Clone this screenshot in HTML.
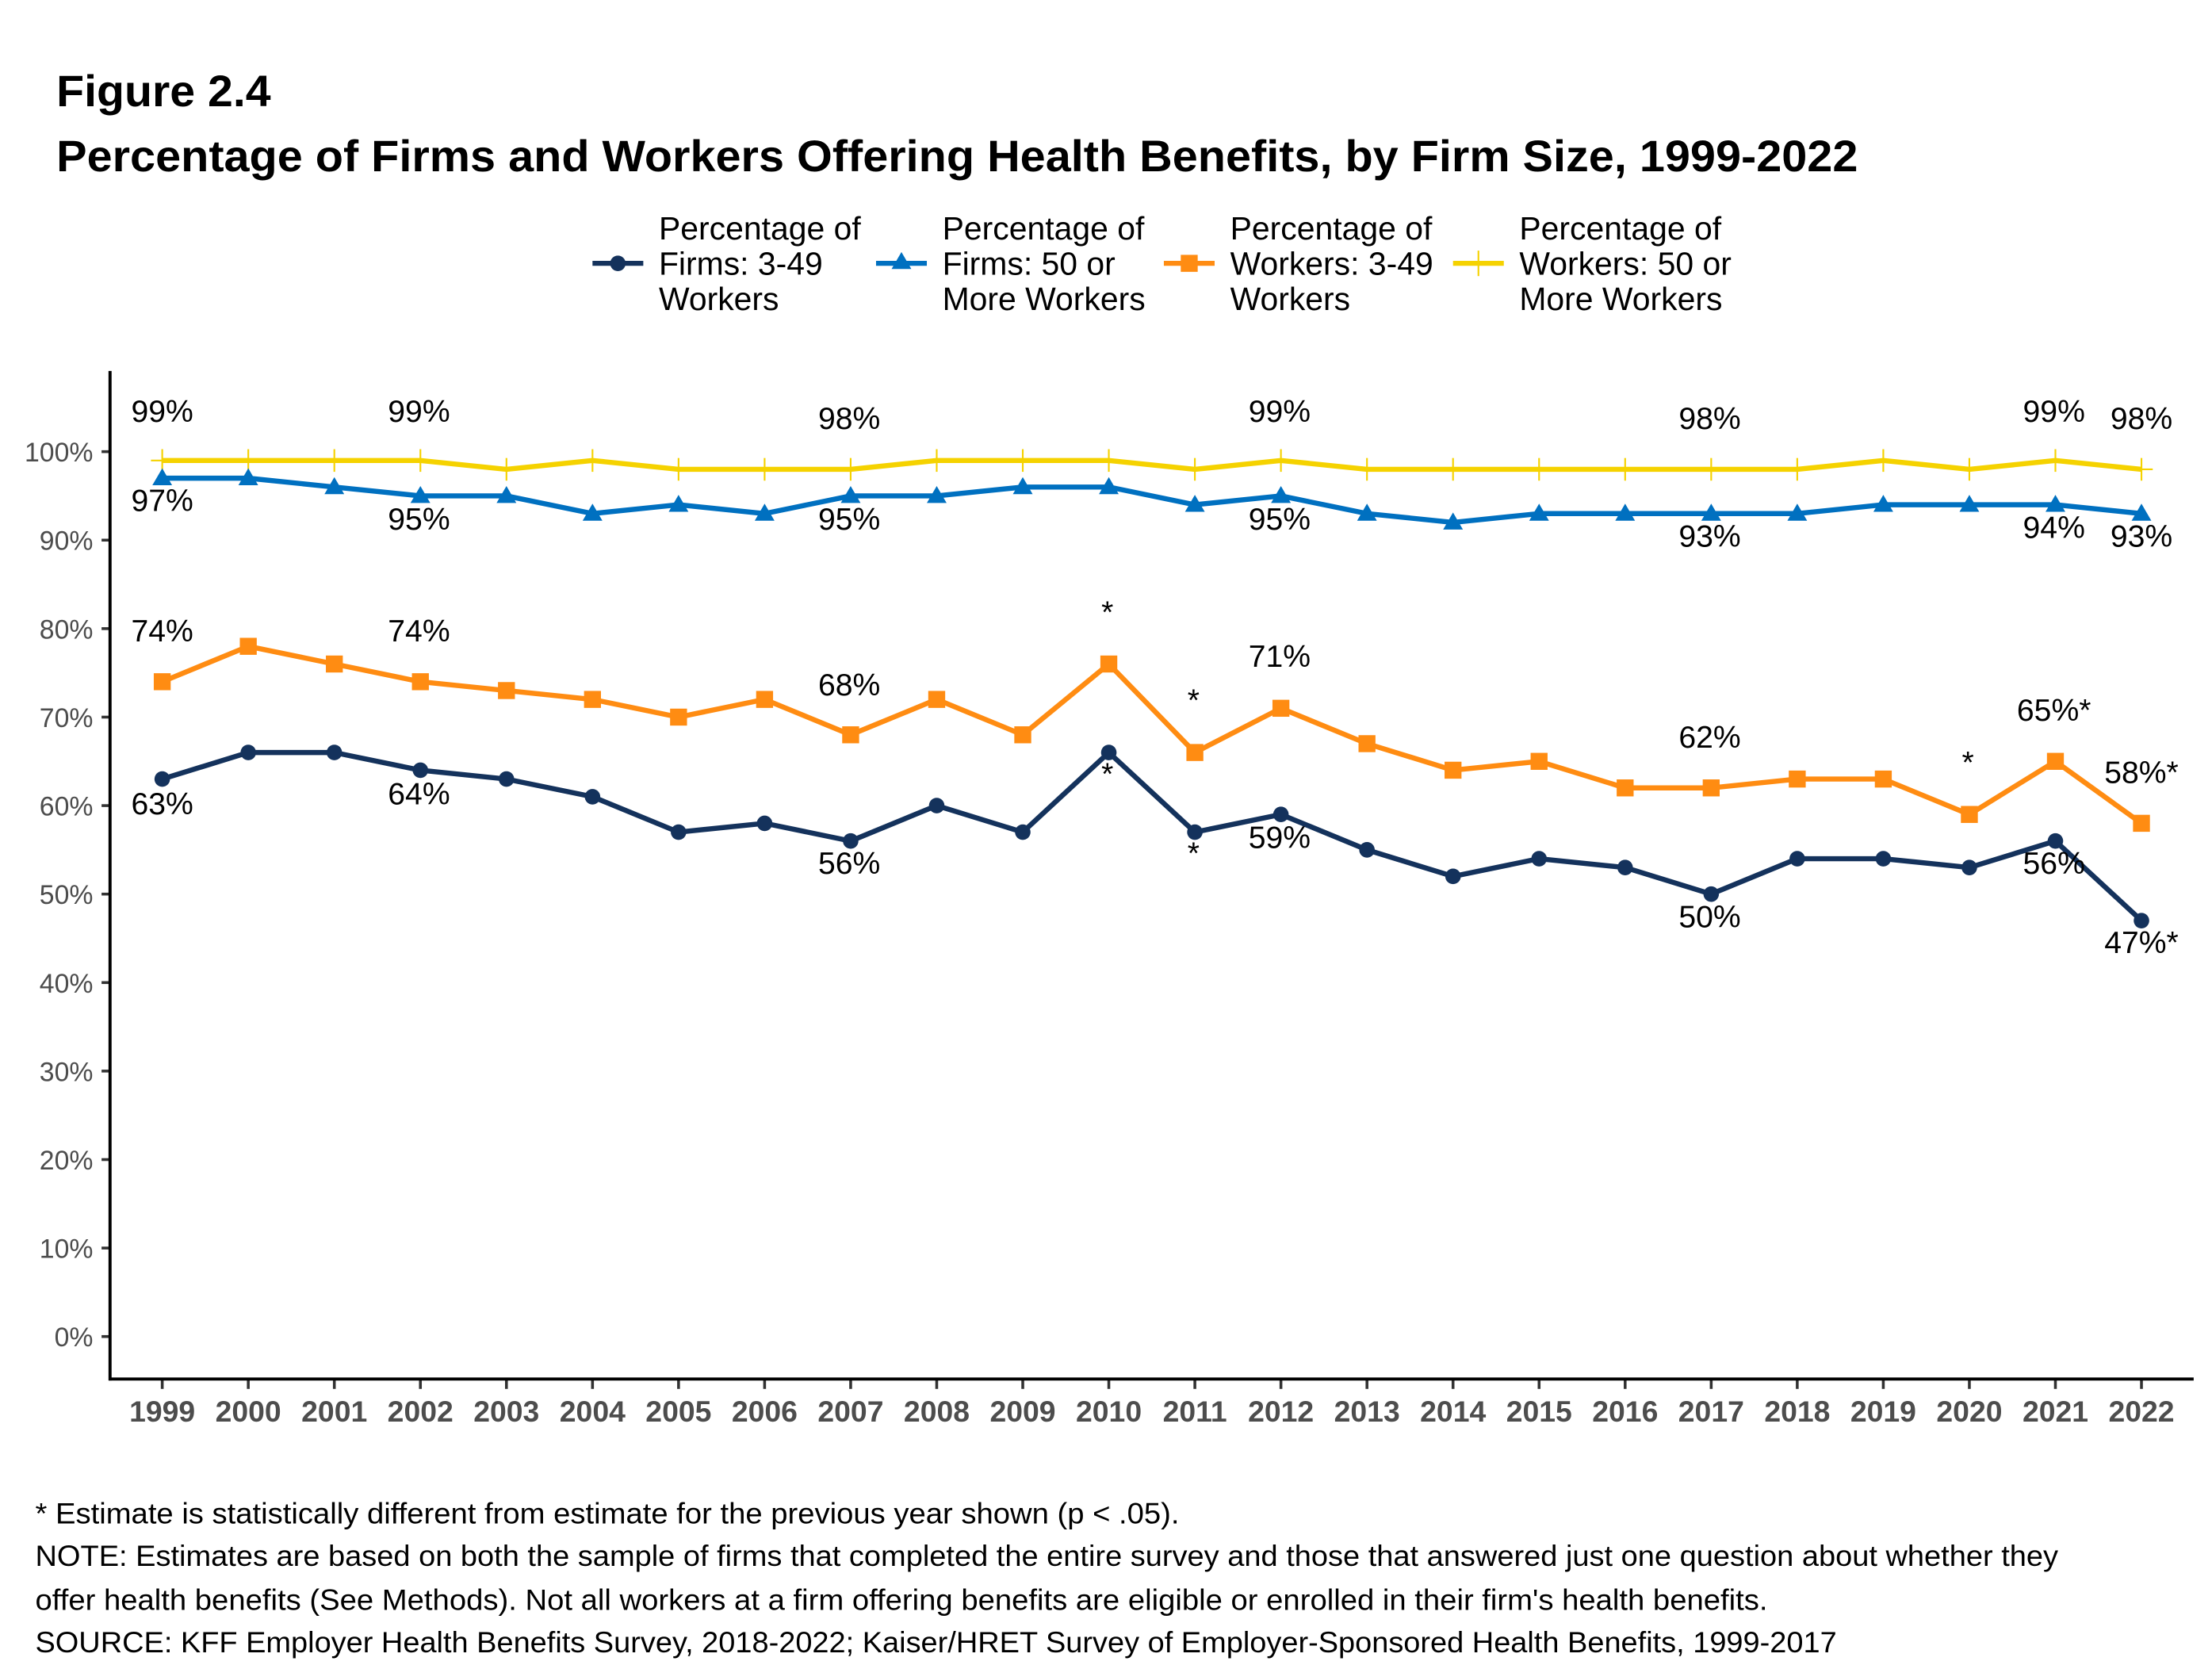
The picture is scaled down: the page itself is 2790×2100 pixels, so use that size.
<!DOCTYPE html>
<html><head><meta charset="utf-8"><style>
html,body{margin:0;padding:0;background:#fff}
svg{display:block}
text{font-family:"Liberation Sans",Arial,sans-serif}
</style></head><body>
<svg width="2790" height="2100" viewBox="0 0 1568 1176" preserveAspectRatio="none" xmlns="http://www.w3.org/2000/svg">
<defs>
<marker id="mc" markerUnits="userSpaceOnUse" markerWidth="14" markerHeight="14" refX="7" refY="7" overflow="visible"><circle cx="7" cy="7" r="5.5" fill="#14325c"/></marker>
<marker id="mt" markerUnits="userSpaceOnUse" markerWidth="16" markerHeight="16" refX="8" refY="8" overflow="visible"><polygon points="8,1 15,13 1,13" fill="#0070c0"/></marker>
<marker id="ms" markerUnits="userSpaceOnUse" markerWidth="14" markerHeight="14" refX="7" refY="7" overflow="visible"><rect x="1" y="1" width="12" height="12" fill="#ff8c12"/></marker>
<marker id="mp" markerUnits="userSpaceOnUse" markerWidth="16" markerHeight="16" refX="8" refY="8" overflow="visible"><line x1="8" y1="0" x2="8" y2="16" stroke="#f5d200" stroke-width="1.2"/><line x1="0" y1="8" x2="16" y2="8" stroke="#f5d200" stroke-width="1.2"/></marker>
</defs>
<text x="40" y="75" font-size="31" font-weight="bold" textLength="152" lengthAdjust="spacingAndGlyphs">Figure 2.4</text>
<text x="40" y="121" font-size="31" font-weight="bold" textLength="1277" lengthAdjust="spacingAndGlyphs">Percentage of Firms and Workers Offering Health Benefits, by Firm Size, 1999-2022</text>

<g font-size="23">
<line x1="420" y1="186" x2="456" y2="186" stroke="#14325c" stroke-width="3.5"/><circle cx="438" cy="186" r="5.5" fill="#14325c"/>
<text x="467" y="169">Percentage of</text><text x="467" y="194">Firms: 3-49</text><text x="467" y="219">Workers</text>
<line x1="621" y1="186" x2="657" y2="186" stroke="#0070c0" stroke-width="3.5"/><polygon points="639,178 646,190 632,190" fill="#0070c0"/>
<text x="668" y="169">Percentage of</text><text x="668" y="194">Firms: 50 or</text><text x="668" y="219">More Workers</text>
<line x1="825" y1="186" x2="861" y2="186" stroke="#ff8c12" stroke-width="3.5"/><rect x="837" y="180" width="12" height="12" fill="#ff8c12"/>
<text x="872" y="169">Percentage of</text><text x="872" y="194">Workers: 3-49</text><text x="872" y="219">Workers</text>
<line x1="1030" y1="186" x2="1066" y2="186" stroke="#f5d200" stroke-width="3.5"/><line x1="1048" y1="177" x2="1048" y2="195" stroke="#f5d200" stroke-width="1.2"/>
<text x="1077" y="169">Percentage of</text><text x="1077" y="194">Workers: 50 or</text><text x="1077" y="219">More Workers</text>
</g>

<g stroke="#333" stroke-width="2">
<line x1="72" y1="944" x2="78" y2="944"/><line x1="72" y1="881.5" x2="78" y2="881.5"/><line x1="72" y1="819" x2="78" y2="819"/><line x1="72" y1="756.5" x2="78" y2="756.5"/><line x1="72" y1="694" x2="78" y2="694"/><line x1="72" y1="631.5" x2="78" y2="631.5"/><line x1="72" y1="569" x2="78" y2="569"/><line x1="72" y1="506.5" x2="78" y2="506.5"/><line x1="72" y1="444" x2="78" y2="444"/><line x1="72" y1="381.5" x2="78" y2="381.5"/><line x1="72" y1="319" x2="78" y2="319"/>
<line x1="115" y1="974" x2="115" y2="981"/><line x1="176" y1="974" x2="176" y2="981"/><line x1="237" y1="974" x2="237" y2="981"/><line x1="298" y1="974" x2="298" y2="981"/><line x1="359" y1="974" x2="359" y2="981"/><line x1="420" y1="974" x2="420" y2="981"/><line x1="481" y1="974" x2="481" y2="981"/><line x1="542" y1="974" x2="542" y2="981"/><line x1="603" y1="974" x2="603" y2="981"/><line x1="664" y1="974" x2="664" y2="981"/><line x1="725" y1="974" x2="725" y2="981"/><line x1="786" y1="974" x2="786" y2="981"/><line x1="847" y1="974" x2="847" y2="981"/><line x1="908" y1="974" x2="908" y2="981"/><line x1="969" y1="974" x2="969" y2="981"/><line x1="1030" y1="974" x2="1030" y2="981"/><line x1="1091" y1="974" x2="1091" y2="981"/><line x1="1152" y1="974" x2="1152" y2="981"/><line x1="1213" y1="974" x2="1213" y2="981"/><line x1="1274" y1="974" x2="1274" y2="981"/><line x1="1335" y1="974" x2="1335" y2="981"/><line x1="1396" y1="974" x2="1396" y2="981"/><line x1="1457" y1="974" x2="1457" y2="981"/><line x1="1518" y1="974" x2="1518" y2="981"/>
</g>
<g stroke="#000" stroke-width="2.2"><line x1="78" y1="262" x2="78" y2="975"/><line x1="77" y1="974" x2="1555" y2="974"/></g>

<g font-size="19" fill="#4d4d4d" text-anchor="end">
<text x="66" y="951">0%</text><text x="66" y="888.5">10%</text><text x="66" y="826">20%</text><text x="66" y="763.5">30%</text><text x="66" y="701">40%</text><text x="66" y="638.5">50%</text><text x="66" y="576">60%</text><text x="66" y="513.5">70%</text><text x="66" y="451">80%</text><text x="66" y="388.5">90%</text><text x="66" y="326">100%</text>
</g>
<g font-size="21" font-weight="bold" fill="#4d4d4d" text-anchor="middle">
<text x="115" y="1004">1999</text><text x="176" y="1004">2000</text><text x="237" y="1004">2001</text><text x="298" y="1004">2002</text><text x="359" y="1004">2003</text><text x="420" y="1004">2004</text><text x="481" y="1004">2005</text><text x="542" y="1004">2006</text><text x="603" y="1004">2007</text><text x="664" y="1004">2008</text><text x="725" y="1004">2009</text><text x="786" y="1004">2010</text><text x="847" y="1004">2011</text><text x="908" y="1004">2012</text><text x="969" y="1004">2013</text><text x="1030" y="1004">2014</text><text x="1091" y="1004">2015</text><text x="1152" y="1004">2016</text><text x="1213" y="1004">2017</text><text x="1274" y="1004">2018</text><text x="1335" y="1004">2019</text><text x="1396" y="1004">2020</text><text x="1457" y="1004">2021</text><text x="1518" y="1004">2022</text>
</g>

<g fill="none" stroke-width="3.6" stroke-linejoin="round">
<polyline stroke="#f5d200" marker-start="url(#mp)" marker-mid="url(#mp)" marker-end="url(#mp)" points="115,325.25 176,325.25 237,325.25 298,325.25 359,331.5 420,325.25 481,331.5 542,331.5 603,331.5 664,325.25 725,325.25 786,325.25 847,331.5 908,325.25 969,331.5 1030,331.5 1091,331.5 1152,331.5 1213,331.5 1274,331.5 1335,325.25 1396,331.5 1457,325.25 1518,331.5"/>
<polyline stroke="#0070c0" marker-start="url(#mt)" marker-mid="url(#mt)" marker-end="url(#mt)" points="115,337.75 176,337.75 237,344 298,350.25 359,350.25 420,362.75 481,356.5 542,362.75 603,350.25 664,350.25 725,344 786,344 847,356.5 908,350.25 969,362.75 1030,369 1091,362.75 1152,362.75 1213,362.75 1274,362.75 1335,356.5 1396,356.5 1457,356.5 1518,362.75"/>
<polyline stroke="#ff8c12" marker-start="url(#ms)" marker-mid="url(#ms)" marker-end="url(#ms)" points="115,481.5 176,456.5 237,469 298,481.5 359,487.75 420,494 481,506.5 542,494 603,519 664,494 725,519 786,469 847,531.5 908,500.25 969,525.25 1030,544 1091,537.75 1152,556.5 1213,556.5 1274,550.25 1335,550.25 1396,575.25 1457,537.75 1518,581.5"/>
<polyline stroke="#14325c" marker-start="url(#mc)" marker-mid="url(#mc)" marker-end="url(#mc)" points="115,550.25 176,531.5 237,531.5 298,544 359,550.25 420,562.75 481,587.75 542,581.5 603,594 664,569 725,587.75 786,531.5 847,587.75 908,575.25 969,600.25 1030,619 1091,606.5 1152,612.75 1213,631.5 1274,606.5 1335,606.5 1396,612.75 1457,594 1518,650.25"/>
</g>

<g font-size="22" text-anchor="middle" dominant-baseline="central">
<text x="115" y="291">99%</text><text x="297" y="291">99%</text><text x="602" y="296">98%</text><text x="907" y="291">99%</text><text x="1212" y="296">98%</text><text x="1456" y="291">99%</text><text x="1518" y="296">98%</text>
<text x="115" y="354">97%</text><text x="297" y="367">95%</text><text x="602" y="367">95%</text><text x="907" y="367">95%</text><text x="1212" y="379">93%</text><text x="1456" y="373">94%</text><text x="1518" y="379">93%</text>
<text x="115" y="446">74%</text><text x="297" y="446">74%</text><text x="602" y="484">68%</text><text x="785" y="433">*</text><text x="846" y="495">*</text><text x="907" y="464">71%</text><text x="1212" y="521">62%</text><text x="1395" y="539">*</text><text x="1456" y="502">65%*</text><text x="1518" y="546">58%*</text>
<text x="115" y="568">63%</text><text x="297" y="561">64%</text><text x="602" y="610">56%</text><text x="785" y="547">*</text><text x="846" y="603">*</text><text x="907" y="592">59%</text><text x="1212" y="648">50%</text><text x="1456" y="610">56%</text><text x="1518" y="666">47%*</text>
</g>

<g font-size="20.5">
<text x="25" y="1076" textLength="811" lengthAdjust="spacingAndGlyphs">* Estimate is statistically different from estimate for the previous year shown (p &lt; .05).</text>
<text x="25" y="1106" textLength="1434" lengthAdjust="spacingAndGlyphs">NOTE: Estimates are based on both the sample of firms that completed the entire survey and those that answered just one question about whether they</text>
<text x="25" y="1137" textLength="1228" lengthAdjust="spacingAndGlyphs">offer health benefits (See Methods).  Not all workers at a firm offering benefits are eligible or enrolled in their firm's health benefits.</text>
<text x="25" y="1167" textLength="1277" lengthAdjust="spacingAndGlyphs">SOURCE: KFF Employer Health Benefits Survey, 2018-2022; Kaiser/HRET Survey of Employer-Sponsored Health Benefits, 1999-2017</text>
</g>
</svg>
</body></html>
